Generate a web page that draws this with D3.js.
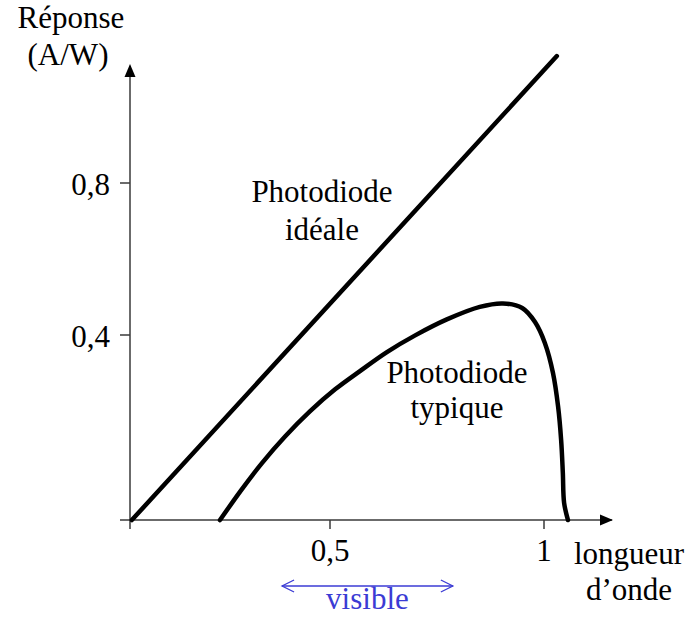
<!DOCTYPE html>
<html>
<head>
<meta charset="utf-8">
<script src="https://cdn.jsdelivr.net/npm/d3@7"></script>
<style>
  body { margin: 0; background: #fff; }
  text { font-family: "Liberation Serif", "Times New Roman", serif; font-size: 31px; fill: #000; }
</style>
</head>
<body>
<div id="root"></div>
<script>
// ticks
const xTicks = [0.5, 1];
const xTickLabels = ["0,5", "1"];
const yTicks = [0.4, 0.8];
const yTickLabels = ["0,4", "0,8"];

// ideal photodiode: straight line
const idealX = [0.037, 1.03];
const idealY = [-0.087, 1.134];

// typical photodiode
const typX = [0.243, 0.290, 0.341, 0.395, 0.453, 0.512, 0.570, 0.633, 0.699, 0.773, 0.850, 0.904, 0.949, 0.979, 1.002, 1.021, 1.033, 1.040, 1.044, 1.047, 1.056];
const typY = [-0.087, -0.012, 0.063, 0.133, 0.199, 0.257, 0.305, 0.355, 0.399, 0.441, 0.474, 0.483, 0.471, 0.434, 0.379, 0.300, 0.211, 0.124, 0.037, -0.042, -0.087];

// visible band
const visible = [0.388, 0.787];

const width = 688, height = 617;
const x = d3.scaleLinear().domain([0.5, 1]).range([330, 544]);
const y = d3.scaleLinear().domain([0.4, 0.8]).range([335, 183]);
const x0 = x.invert(130), y0 = y.invert(520);

const svg = d3.select("#root").append("svg")
  .attr("width", width).attr("height", height);

const axisColor = "#3a3a3a";

// x axis
svg.append("line")
  .attr("x1", x(x0) - 10).attr("x2", 612)
  .attr("y1", y(y0)).attr("y2", y(y0))
  .attr("stroke", axisColor).attr("stroke-width", 1.5);
svg.append("path")
  .attr("d", `M613,${y(y0)} l-13,-5.5 l0,11 z`)
  .attr("fill", "#000");
svg.selectAll(".xt").data(xTicks).join("line")
  .attr("x1", d => x(d)).attr("x2", d => x(d))
  .attr("y1", y(y0)).attr("y2", y(y0) + 9)
  .attr("stroke", axisColor).attr("stroke-width", 1.5);
svg.selectAll(".xl").data(xTicks).join("text")
  .attr("x", d => x(d)).attr("y", 561)
  .attr("text-anchor", "middle")
  .text((d, i) => xTickLabels[i]);

// y axis
svg.append("line")
  .attr("x1", x(x0)).attr("x2", x(x0))
  .attr("y1", y(y0) + 9).attr("y2", 66)
  .attr("stroke", axisColor).attr("stroke-width", 1.5);
svg.append("path")
  .attr("d", `M${x(x0)},64 l-5.5,13 l11,0 z`)
  .attr("fill", "#000");
svg.selectAll(".yt").data(yTicks).join("line")
  .attr("x1", x(x0) - 10).attr("x2", x(x0))
  .attr("y1", d => y(d)).attr("y2", d => y(d))
  .attr("stroke", axisColor).attr("stroke-width", 1.5);
svg.selectAll(".yl").data(yTicks).join("text")
  .attr("x", 110).attr("y", d => y(d) + 12)
  .attr("text-anchor", "end")
  .text((d, i) => yTickLabels[i]);

// axis titles
svg.append("text").attr("x", 71).attr("y", 28).attr("text-anchor", "middle").text("Réponse");
svg.append("text").attr("x", 68).attr("y", 65).attr("text-anchor", "middle").text("(A/W)");
svg.append("text").attr("x", 629).attr("y", 564).attr("text-anchor", "middle").text("longueur");
svg.append("text").attr("x", 629).attr("y", 600).attr("text-anchor", "middle").text("d\u2019onde");

// curves
const line = d3.line().x(d => x(d[0])).y(d => y(d[1]));
svg.append("path")
  .attr("d", line(d3.zip(idealX, idealY)))
  .attr("fill", "none").attr("stroke", "#000")
  .attr("stroke-width", 4.5).attr("stroke-linecap", "round");

const curve = d3.line().curve(d3.curveCatmullRom.alpha(0.5))
  .x(d => x(d[0])).y(d => y(d[1]));
svg.append("path")
  .attr("d", curve(d3.zip(typX, typY)))
  .attr("fill", "none").attr("stroke", "#000")
  .attr("stroke-width", 4.5).attr("stroke-linecap", "round");

// curve labels
svg.append("text").attr("x", 322).attr("y", 202).attr("text-anchor", "middle").text("Photodiode");
svg.append("text").attr("x", 322).attr("y", 240).attr("text-anchor", "middle").text("idéale");
svg.append("text").attr("x", 457).attr("y", 383).attr("text-anchor", "middle").text("Photodiode");
svg.append("text").attr("x", 457).attr("y", 418).attr("text-anchor", "middle").text("typique");

// visible band
const blue = "#3b3bd4";
const vy = 586;
const va = x(visible[0]), vb = x(visible[1]);
svg.append("line")
  .attr("x1", va).attr("x2", vb).attr("y1", vy).attr("y2", vy)
  .attr("stroke", blue).attr("stroke-width", 1.3);
svg.append("path")
  .attr("d", `M${va + 12},${vy - 6} L${va},${vy} L${va + 12},${vy + 6} M${vb - 12},${vy - 6} L${vb},${vy} L${vb - 12},${vy + 6}`)
  .attr("fill", "none").attr("stroke", blue).attr("stroke-width", 1.3);
svg.append("text").attr("x", (va + vb) / 2).attr("y", 609)
  .attr("text-anchor", "middle").style("fill", blue).text("visible");
</script>
</body>
</html>
